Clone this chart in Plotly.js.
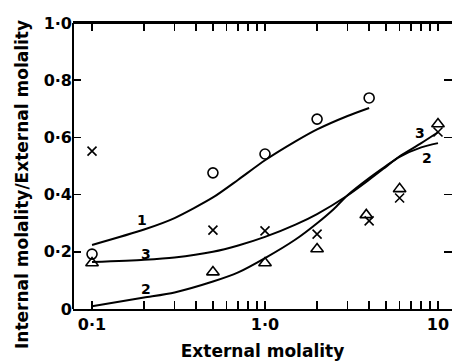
<!DOCTYPE html>
<html>
<head>
<meta charset="utf-8">
<script src="https://cdn.plot.ly/plotly-3.0.1.min.js"></script>
<style>html,body{margin:0;padding:0;background:#fff;}#chart{width:452px;height:363px;}</style>
</head>
<body>
<div id="chart"></div>
<script>
// Measured points
const circleX = [0.1, 0.5, 1.0, 2.0, 4.0];
const circleY = [0.192, 0.476, 0.542, 0.664, 0.738];
const crossX = [0.1, 0.5, 1.0, 2.0, 4.0, 6.0, 10.0];
const crossY = [0.552, 0.276, 0.273, 0.262, 0.308, 0.388, 0.619];
const triX = [0.1, 0.5, 1.0, 2.0, 3.85, 6.0, 10.0];
const triY = [0.161, 0.129, 0.161, 0.21, 0.329, 0.42, 0.647];

// Curves
const curve1X = [0.1, 0.2, 0.3, 0.5, 0.7, 1.0, 1.5, 2.0, 3.0, 4.0];
const curve1Y = [0.224, 0.278, 0.318, 0.39, 0.452, 0.52, 0.586, 0.628, 0.675, 0.703];
const curve2X = [0.1, 0.2, 0.3, 0.5, 0.7, 1.0, 1.5, 2.0, 2.5, 3.0, 4.0, 5.0, 6.0, 8.0, 10.0];
const curve2Y = [0.01, 0.04, 0.058, 0.096, 0.128, 0.178, 0.243, 0.30, 0.35, 0.398, 0.458, 0.50, 0.532, 0.565, 0.58];
const curve3X = [0.1, 0.2, 0.3, 0.5, 0.7, 1.0, 1.5, 2.0, 3.0, 4.0, 5.0, 6.0, 8.0, 10.0];
const curve3Y = [0.164, 0.172, 0.18, 0.20, 0.222, 0.252, 0.295, 0.332, 0.397, 0.452, 0.497, 0.534, 0.58, 0.618];

// Curve labels
const labelText = ["1", "3", "2", "3", "2"];
const labelX = [0.195, 0.205, 0.205, 7.9, 8.6];
const labelY = [0.311, 0.192, 0.07, 0.615, 0.528];

// Ticks
const xTickVals = [0.1,0.2,0.3,0.4,0.5,0.6,0.7,0.8,0.9,1,2,3,4,5,6,7,8,9,10];
const xTickText = ["0·1","","","","","","","","","1·0","","","","","","","","","10"];
const yTickVals = [0, 0.2, 0.4, 0.6, 0.8, 1.0];
const yTickText = ["0", "0·2", "0·4", "0·6", "0·8", "1·0"];

const FONT = "DejaVu Sans, sans-serif";
const lineStyle = {color: "#000", width: 2, shape: "spline", smoothing: 0.7};

const traces = [
  {x: curve1X, y: curve1Y, mode: "lines", line: lineStyle, hoverinfo: "skip"},
  {x: curve2X, y: curve2Y, mode: "lines", line: lineStyle, hoverinfo: "skip"},
  {x: curve3X, y: curve3Y, mode: "lines", line: lineStyle, hoverinfo: "skip"},
  {x: circleX, y: circleY, mode: "markers",
   marker: {symbol: "circle-open", size: 10, color: "#000", line: {color: "#000", width: 1.6}}},
  {x: crossX, y: crossY, mode: "markers",
   marker: {symbol: "x-thin-open", size: 9, color: "#000", line: {color: "#000", width: 1.6}}},
  {x: triX, y: triY, mode: "markers",
   marker: {symbol: "triangle-up-open", size: 11, color: "#000", line: {color: "#000", width: 1.6}}}
];

const annotations = labelText.map((t, i) => ({
  x: Math.log10(labelX[i]), y: labelY[i], xref: "x", yref: "y", text: t, showarrow: false,
  font: {family: FONT, size: 14, color: "#000", weight: "bold"}
}));
annotations.push({
  xref: "paper", yref: "paper", x: -0.166, y: 0.434,
  text: "Internal molality/External molality", textangle: -90, showarrow: false,
  font: {family: FONT, size: 17, color: "#000", weight: "bold"}
});

const layout = {
  width: 452, height: 363,
  margin: {l: 73, r: 0, t: 23, b: 54},
  paper_bgcolor: "#fff", plot_bgcolor: "#fff",
  showlegend: false,
  xaxis: {
    type: "log", range: [-1.110, 1.081], tickvals: xTickVals, ticktext: xTickText,
    ticks: "inside", ticklen: 8, tickwidth: 1.5, tickcolor: "#000",
    showline: true, linewidth: 2, linecolor: "#000", mirror: "ticks",
    showgrid: false, zeroline: false,
    tickfont: {family: FONT, size: 16, color: "#000", weight: "bold"},
    title: {text: "External molality", standoff: 12,
            font: {family: FONT, size: 17, color: "#000", weight: "bold"}}
  },
  yaxis: {
    range: [0, 1.0], tickvals: yTickVals, ticktext: yTickText,
    ticks: "inside", ticklen: 8, tickwidth: 1.5, tickcolor: "#000",
    showline: false, mirror: "ticks",
    showgrid: false, zeroline: false,
    tickfont: {family: FONT, size: 16, color: "#000", weight: "bold"}
  },
  shapes: [
    {type: "line", xref: "paper", yref: "paper", x0: 0, x1: 0, y0: 0, y1: 1,
     line: {color: "#000", width: 2}},
    {type: "line", xref: "paper", yref: "paper", x0: 0, x1: 1, y0: 1, y1: 1,
     line: {color: "#000", width: 2}}
  ],
  annotations: annotations
};

Plotly.newPlot("chart", traces, layout, {staticPlot: true, displayModeBar: false});
</script>
</body>
</html>
